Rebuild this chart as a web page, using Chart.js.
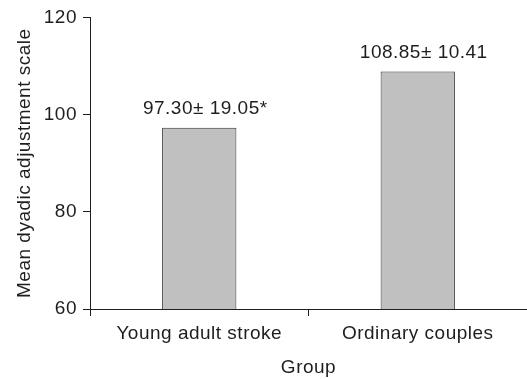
<!DOCTYPE html>
<html>
<head>
<meta charset="utf-8">
<script src="https://cdn.jsdelivr.net/npm/chart.js@4"></script>
<style>
  html, body { margin: 0; padding: 0; background: #fff; overflow: hidden; }
  #wrap { width: 527px; height: 379px; }
</style>
</head>
<body>
<div id="wrap"><canvas id="Chart_0" width="527" height="379"></canvas></div>
<script>
"use strict";

// data
const groups = ["Young adult stroke", "Ordinary couples"];
const means = [97.30, 108.85];
const sds = [19.05, 10.41];
const marks = ["*", ""];
const yTicks = [60, 80, 100, 120];

const ink = '#1e1e1e';
const font = "'Liberation Sans', Arial, sans-serif";
const fs = 19;

// the scanned figure has slightly loose letter spacing
const spacing = {
  id: 'spacing',
  beforeDraw(chart) { chart.ctx.letterSpacing = '0.5px'; }
};

// mean ± sd labels over each bar
const valueLabels = {
  id: 'valueLabels',
  afterDatasetsDraw(chart) {
    const ctx = chart.ctx;
    const meta = chart.getDatasetMeta(0);
    ctx.save();
    ctx.fillStyle = ink;
    ctx.font = fs + 'px ' + font;
    ctx.textAlign = 'center';
    ctx.textBaseline = 'alphabetic';
    meta.data.forEach((bar, i) => {
      const txt = means[i].toFixed(2) + '\u00b1 ' + sds[i].toFixed(2) + marks[i];
      ctx.fillText(txt, bar.x + 6, bar.y - 14);
    });
    ctx.restore();
  }
};

const ctx = document.getElementById('Chart_0');
new Chart(ctx, {
  type: 'bar',
  data: {
    labels: groups,
    datasets: [{
      data: means,
      backgroundColor: '#c0c0c0',
      borderColor: '#333',
      borderWidth: 1,
      borderSkipped: false,
      barPercentage: 0.34,
      categoryPercentage: 1
    }]
  },
  options: {
    responsive: false,
    animation: false,
    devicePixelRatio: 1,
    layout: { padding: { top: 15, right: 0, left: 0, bottom: 0 } },
    plugins: {
      legend: { display: false },
      tooltip: { enabled: false }
    },
    scales: {
      x: {
        offset: true,
        grid: { offset: true, drawOnChartArea: false, tickLength: 7, color: ink, lineWidth: 1 },
        border: { color: ink, width: 1 },
        ticks: { color: ink, font: { family: font, size: fs }, padding: 6 },
        title: { display: true, text: 'Group', color: ink, font: { family: font, size: fs }, padding: { top: 0, bottom: 0 } },
        afterFit(scale) { scale.height = 70; }
      },
      y: {
        min: 60,
        max: 120,
        afterBuildTicks(scale) { scale.ticks = yTicks.map(v => ({ value: v })); },
        grid: { drawOnChartArea: false, tickLength: 7, color: ink, lineWidth: 1 },
        border: { color: ink, width: 1 },
        ticks: { color: ink, font: { family: font, size: fs }, padding: 6 },
        title: { display: true, text: 'Mean dyadic adjustment scale', color: ink, font: { family: font, size: fs }, padding: { top: 13, bottom: 0 } },
        afterFit(scale) { scale.width = 90; }
      }
    }
  },
  plugins: [spacing, valueLabels]
});
</script>
</body>
</html>
